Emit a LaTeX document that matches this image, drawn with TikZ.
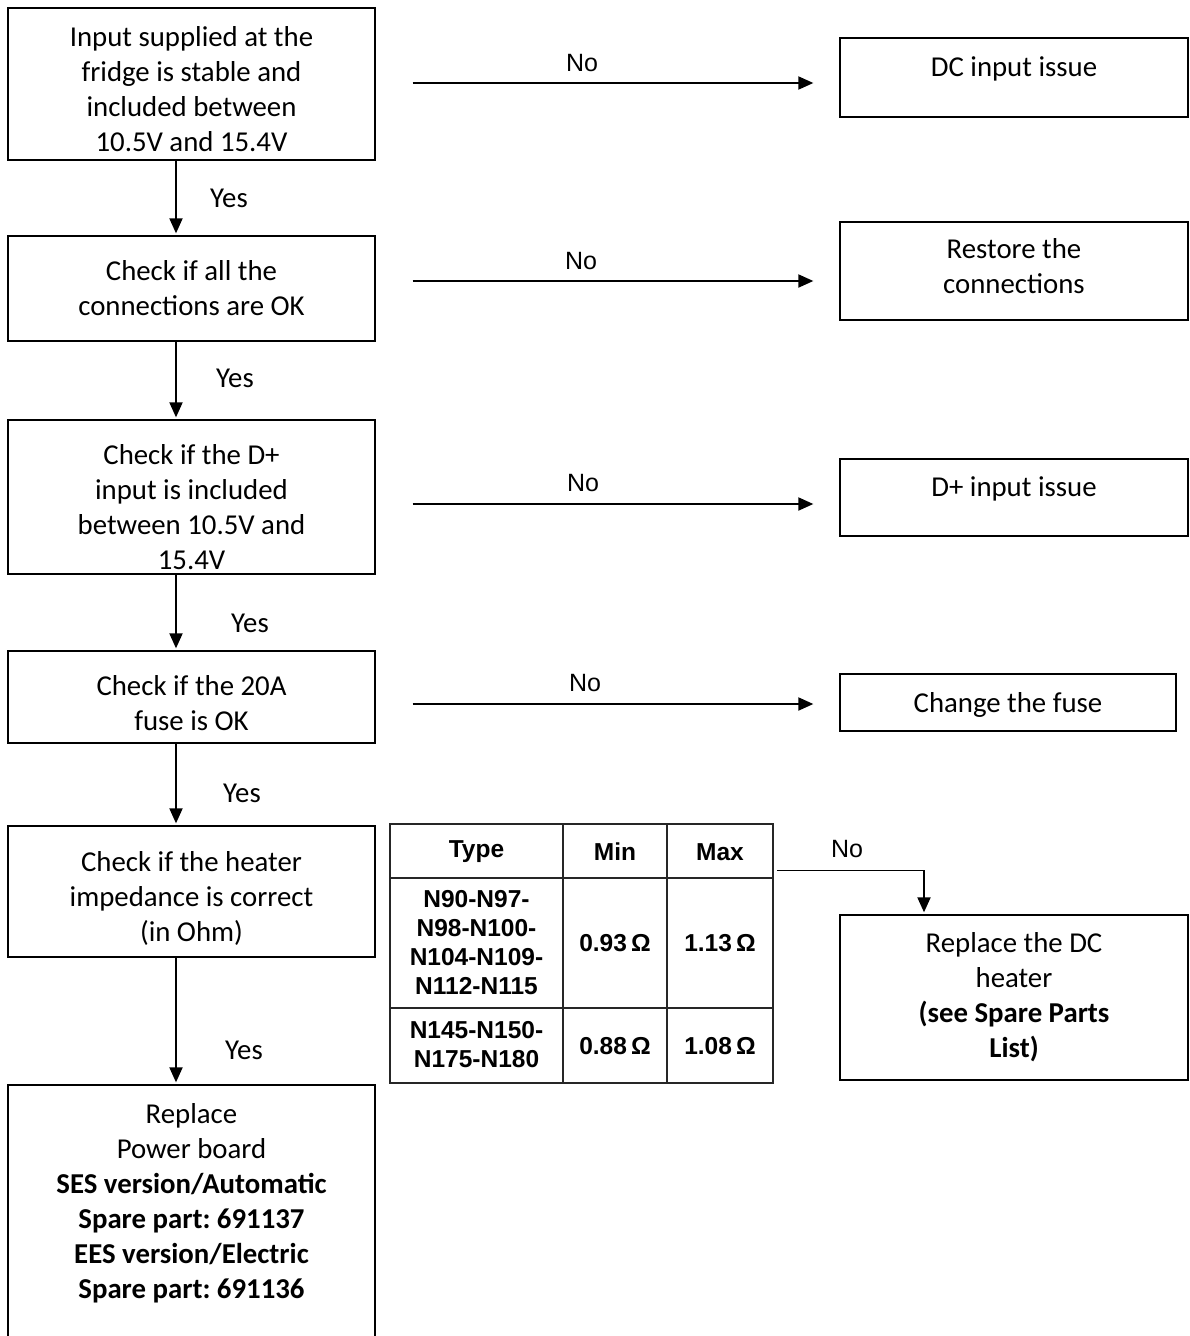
\documentclass[tikz,border=0pt]{standalone}
\usepackage{fontspec}
\setmainfont{Carlito}
\newfontfamily\tabfont{Liberation Sans}
\usetikzlibrary{arrows.meta}
\frenchspacing
\begin{document}
\begin{tikzpicture}[x=1pt,y=-1pt,
  box/.style={draw, line width=1.3pt, inner sep=0pt, align=center,
    font=\fontsize{28.8}{35}\selectfont},
  arr/.style={line width=1.9pt, -{Triangle[length=15pt,width=13pt]}},
  yeslbl/.style={font=\fontsize{28.8}{35}\selectfont, inner sep=0pt},
  nolbl/.style={font=\tabfont\fontsize{25}{28}\selectfont, inner sep=0pt},
  tab/.style={font=\tabfont\bfseries\fontsize{24.5}{29}\selectfont, align=center, inner sep=0pt},
  tline/.style={draw=black!85, line width=1.5pt}]
\useasboundingbox (0,0) rectangle (1189,1336);
\clip (0,0) rectangle (1189,1336);

% left column
\node[box, minimum width=367pt, minimum height=152pt] (b1) at (191.5,84)
  {\rule{0pt}{31pt}Input supplied at the\\fridge is stable and\\included between\\10.5V and 15.4V};
\node[box, minimum width=367pt, minimum height=105pt] (b2) at (191.5,288.5)
  {Check if all the\\connections are OK};
\node[box, minimum width=367pt, minimum height=154pt] (b3) at (191.5,497)
  {\rule{0pt}{40pt}Check if the D+\\input is included\\between 10.5V and\\15.4V};
\node[box, minimum width=367pt, minimum height=92pt] (b4) at (191.5,697)
  {\rule{0pt}{33pt}Check if the 20A\\fuse is OK};
\node[box, minimum width=367pt, minimum height=131pt] (b5) at (191.5,891.5)
  {\rule{0pt}{33pt}Check if the heater\\impedance is correct\\(in Ohm)};
\node[box, minimum width=367pt, minimum height=260pt] (b6) at (191.5,1215)
  {Replace\\Power board\\\textbf{SES version/Automatic}\\\textbf{Spare part: 691137}\\\textbf{EES version/Electric}\\\textbf{Spare part: 691136}\rule[-28pt]{0pt}{0pt}};

% right column
\node[box, minimum width=348pt, minimum height=79pt] (r1) at (1014,77.5) {DC input issue\rule[-22pt]{0pt}{0pt}};
\node[box, minimum width=348pt, minimum height=98pt] (r2) at (1014,271) {Restore the\\connections\rule[-10pt]{0pt}{0pt}};
\node[box, minimum width=348pt, minimum height=77pt] (r3) at (1014,497.5) {D+ input issue\rule[-22pt]{0pt}{0pt}};
\node[box, minimum width=336pt, minimum height=57pt] (r4) at (1008,702.5) {\rule{0pt}{25pt}Change the fuse};
\node[box, minimum width=348pt, minimum height=165pt] (r5) at (1014,997.5)
  {Replace the DC\\heater\\\textbf{(see Spare Parts}\\\textbf{List)}};

% vertical Yes arrows
\draw[arr] ([xshift=-15.5pt]b1.south) -- ([xshift=-15.5pt,yshift=2pt]b2.north);
\draw[arr] ([xshift=-15.5pt]b2.south) -- ([xshift=-15.5pt,yshift=2pt]b3.north);
\draw[arr] ([xshift=-15.5pt]b3.south) -- ([xshift=-15.5pt,yshift=2pt]b4.north);
\draw[arr] ([xshift=-15.5pt]b4.south) -- ([xshift=-15.5pt,yshift=2pt]b5.north);
\draw[arr] ([xshift=-15.5pt]b5.south) -- ([xshift=-15.5pt,yshift=2pt]b6.north);
\node[yeslbl] (y1) at (229,198) {Yes};
\node[yeslbl] (y2) at (235,378) {Yes};
\node[yeslbl] (y3) at (250,623) {Yes};
\node[yeslbl] (y4) at (242,793) {Yes};
\node[yeslbl] (y5) at (244,1050) {Yes};

% horizontal No arrows
\draw[arr, shorten <=37pt, shorten >=26pt] ([yshift=1pt]b1.east) -- ([yshift=1pt]b1.east -| r1.west);
\draw[arr, shorten <=37pt, shorten >=26pt] ([yshift=7.5pt]b2.east) -- ([yshift=7.5pt]b2.east -| r2.west);
\draw[arr, shorten <=37pt, shorten >=26pt] ([yshift=-7pt]b3.east) -- ([yshift=-7pt]b3.east -| r3.west);
\draw[arr, shorten <=37pt, shorten >=26pt] ([yshift=-7pt]b4.east) -- ([yshift=-7pt]b4.east -| r4.west);
\node[nolbl] (n1) at (582,63) {No};
\node[nolbl] (n2) at (581,261) {No};
\node[nolbl] (n3) at (583,483) {No};
\node[nolbl] (n4) at (585,683) {No};

% table
\node[tline, draw, minimum width=383pt, minimum height=259pt, inner sep=0pt] (tbl) at (581.5,953.5) {};
\draw[tline] (563,824) -- (563,1083);
\draw[tline] (667,824) -- (667,1083);
\draw[tline] (390,878) -- (773,878);
\draw[tline] (390,1008) -- (773,1008);
\node[tab] (th1) at (476.5,852) {Type};
\node[tab] (th2) at (615,852) {Min};
\node[tab] (th3) at (720,852) {Max};
\node[tab] (c11) at (476.5,943) {N90-N97-\\N98-N100-\\N104-N109-\\N112-N115};
\node[tab] (c12) at (615,943) {0.93\,Ω};
\node[tab] (c13) at (720,943) {1.13\,Ω};
\node[tab] (c21) at (476.5,1045) {N145-N150-\\N175-N180};
\node[tab] (c22) at (615,1046) {0.88\,Ω};
\node[tab] (c23) at (720,1046) {1.08\,Ω};

% heater No arrow
\path ([xshift=-90pt]r5.north) coordinate (r5n);
\path ([yshift=-47pt]tbl.north east) coordinate (te);
\coordinate (hk) at (r5n |- te);
\draw[line width=1pt] ([xshift=3pt]te) -- ([xshift=1pt]hk);
\draw[arr] (hk) -- ([yshift=2pt]r5n);
\node[nolbl] (n5) at (847,849) {No};
\end{tikzpicture}
\end{document}
